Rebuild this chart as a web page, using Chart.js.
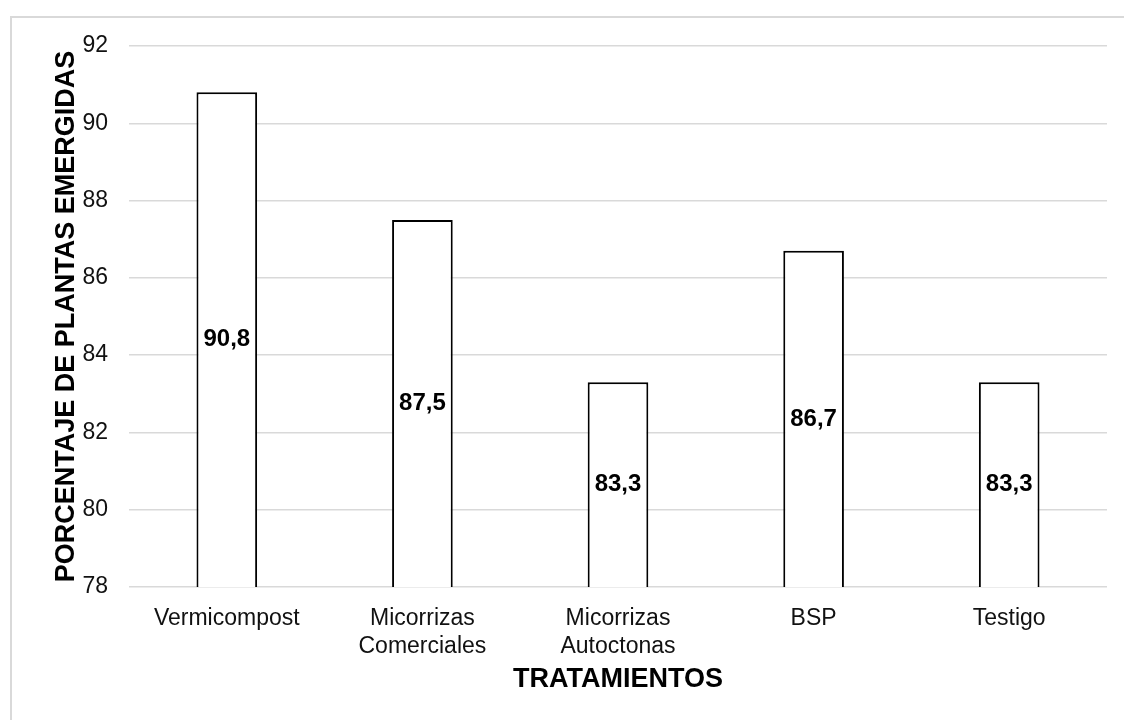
<!DOCTYPE html>
<html>
<head>
<meta charset="utf-8">
<script src="https://cdn.jsdelivr.net/npm/chart.js@4/dist/chart.umd.min.js"></script>
<style>
  html, body { margin: 0; padding: 0; background: #ffffff; overflow: hidden; }
  #frame { position: absolute; left: 10px; top: 16px; width: 1300px; height: 900px; border: 2px solid #d9d9d9; box-sizing: border-box; }
  #wrap { position: absolute; left: 0; top: 0; width: 1124px; height: 720px; }
</style>
</head>
<body>
<div id="frame"></div>
<div id="wrap"><canvas id="c"></canvas></div>
<script>
const categories = ['Vermicompost', ['Micorrizas', 'Comerciales'], ['Micorrizas', 'Autoctonas'], 'BSP', 'Testigo'];
const values = [90.8, 87.5, 83.3, 86.7, 83.3];
const yTicks = [78, 80, 82, 84, 86, 88, 90, 92];
const yTitle = 'PORCENTAJE DE PLANTAS EMERGIDAS';
const xTitle = 'TRATAMIENTOS';

const FONT = "'Liberation Sans', Arial, Helvetica, sans-serif";

const barLabels = {
  id: 'barLabels',
  afterDraw(chart) {
    const ctx = chart.ctx;
    const meta = chart.getDatasetMeta(0);
    const ys = chart.scales.y;
    const data = chart.data.datasets[0].data;
    ctx.save();
    ctx.font = 'bold 24px ' + FONT;
    ctx.fillStyle = '#000000';
    ctx.textAlign = 'center';
    ctx.textBaseline = 'middle';
    for (let i = 0; i < data.length; i++) {
      const bar = meta.data[i];
      const v = Number(data[i]);
      const top = ys.getPixelForValue(v);
      const base = ys.getPixelForValue(ys.min);
      const txt = v.toFixed(1).replace('.', ',');
      ctx.fillText(txt, bar.x, (top + base) / 2);
    }
    ctx.restore();
  }
};

new Chart(document.getElementById('c'), {
  type: 'bar',
  data: {
    labels: categories,
    datasets: [{
      data: values,
      backgroundColor: '#ffffff',
      borderColor: '#000000',
      borderWidth: 2,
      categoryPercentage: 1.0,
      barPercentage: 0.31
    }]
  },
  options: {
    responsive: true,
    maintainAspectRatio: false,
    animation: false,
    layout: { padding: { left: 40, right: 17, top: 46, bottom: 24 } },
    plugins: { legend: { display: false }, tooltip: { enabled: false } },
    scales: {
      x: {
        grid: { display: false },
        border: { display: false },
        ticks: {
          color: '#111111',
          font: { family: FONT, size: 23 },
          padding: 10,
          maxRotation: 0,
          autoSkip: false
        },
        title: {
          display: true,
          text: xTitle,
          color: '#000000',
          font: { family: FONT, size: 27, weight: 'bold' },
          padding: { top: 0, bottom: 0 }
        },
        afterFit(scale) { scale.height = 720 - 24 - 587; }
      },
      y: {
        min: yTicks[0],
        max: yTicks[yTicks.length - 1],
        afterBuildTicks(scale) { scale.ticks = yTicks.map(v => ({ value: v })); },
        grid: { color: '#d9d9d9', lineWidth: 1.5, drawTicks: false },
        border: { display: false },
        ticks: {
          color: '#111111',
          font: { family: FONT, size: 23 },
          padding: 21
        },
        title: {
          display: true,
          text: yTitle,
          color: '#000000',
          font: { family: FONT, size: 27, weight: 'bold' },
          padding: { top: 10, bottom: 0 }
        },
        afterFit(scale) { scale.width = 129 - 40; }
      }
    }
  },
  plugins: [barLabels]
});
</script>
</body>
</html>
